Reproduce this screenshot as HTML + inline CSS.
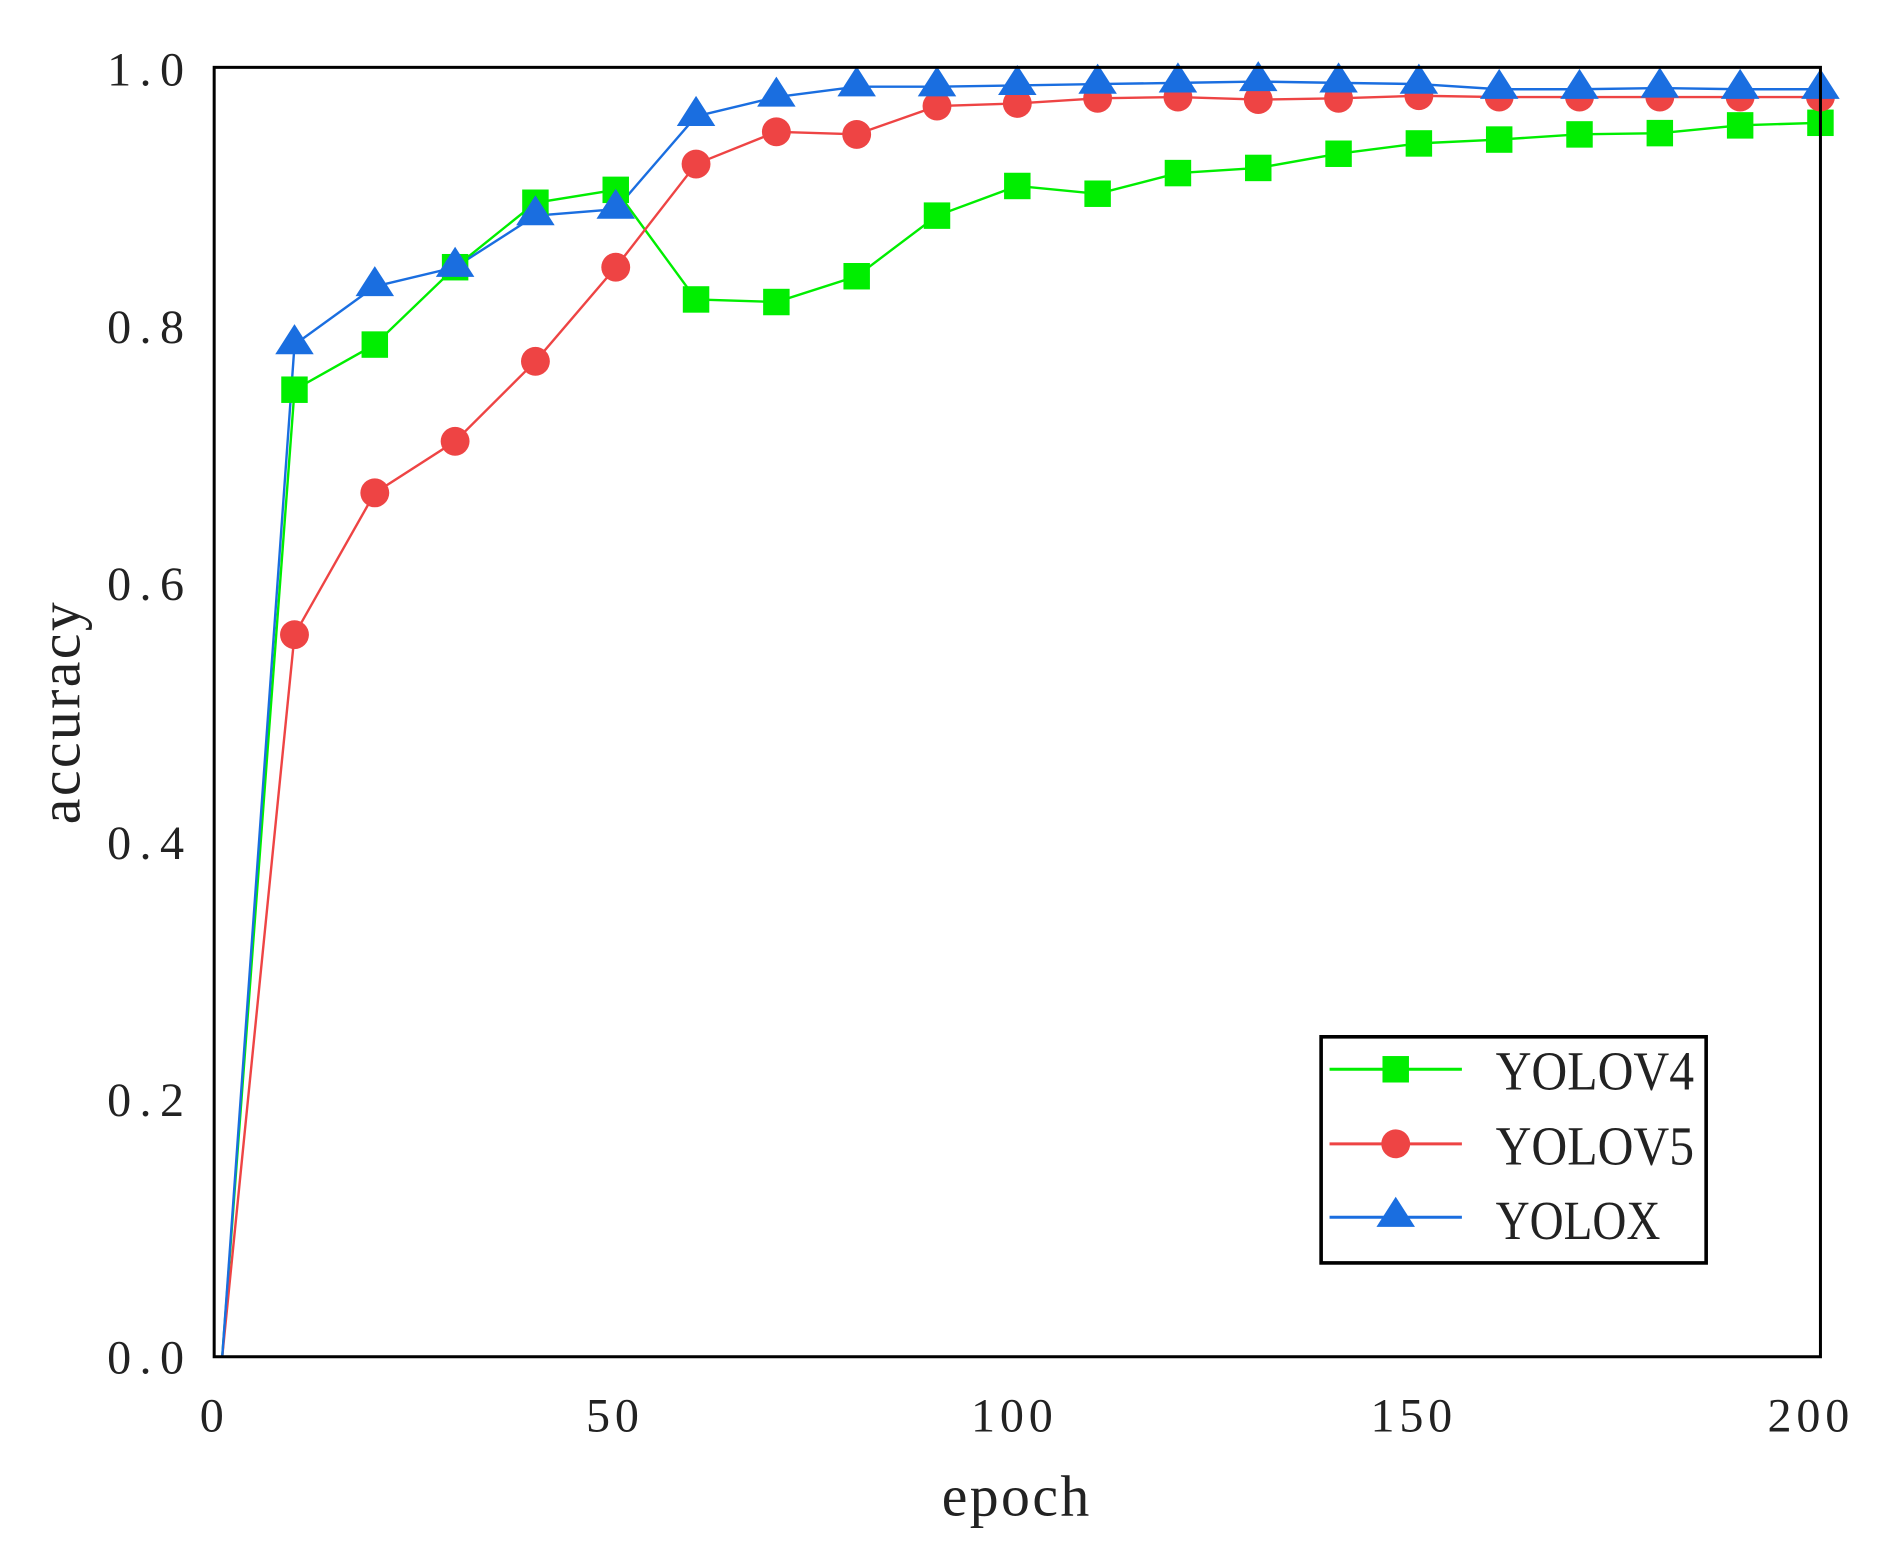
<!DOCTYPE html>
<html><head><meta charset="utf-8"><style>
html,body{margin:0;padding:0;background:#fff;}
svg{display:block;}
text{font-family:"Liberation Serif","Noto Serif CJK SC",serif;fill:#222;}
</style></head><body>
<svg id="s" width="1877" height="1554" viewBox="0 0 1560 1292" preserveAspectRatio="none" xmlns="http://www.w3.org/2000/svg">
<rect x="0" y="0" width="1560" height="1292" fill="#fff"/>
<g id="series"></g>
<rect x="178" y="56" width="1335" height="1072" fill="none" stroke="#000" stroke-width="2.5"/>
<g font-size="40" text-anchor="end" letter-spacing="7">
<text x="160" y="1142">0.0</text>
<text x="160" y="928">0.2</text>
<text x="160" y="714">0.4</text>
<text x="160" y="499">0.6</text>
<text x="160" y="285">0.8</text>
<text x="160" y="71">1.0</text>
</g>
<g font-size="40" text-anchor="middle" letter-spacing="4">
<text x="178" y="1190">0</text>
<text x="511" y="1190">50</text>
<text x="843" y="1190">100</text>
<text x="1175" y="1190">150</text>
<text x="1505" y="1190">200</text>
</g>
<text x="845" y="1260" font-size="48" text-anchor="middle" letter-spacing="2">epoch</text>
<text transform="translate(66,592) rotate(-90)" font-size="48" text-anchor="middle" letter-spacing="2">accuracy</text>
<rect x="1098" y="862" width="320" height="188" fill="#fff" stroke="#000" stroke-width="3"/>
<line x1="1105" y1="889" x2="1215" y2="889" stroke="#00ee00" stroke-width="2.5"/>
<rect x="1149" y="878" width="22" height="22" fill="#00ee00"/>
<line x1="1105" y1="951" x2="1215" y2="951" stroke="#ee4444" stroke-width="2.5"/>
<circle cx="1160" cy="951" r="12" fill="#ee4444"/>
<line x1="1105" y1="1012" x2="1215" y2="1012" stroke="#1a6ee0" stroke-width="2.5"/>
<polygon points="1160,995 1144,1020 1176,1020" fill="#1a6ee0"/>
<g font-size="46" textLength="165">
<text x="1243" y="906" textLength="165" lengthAdjust="spacingAndGlyphs">YOLOV4</text>
<text x="1243" y="968" textLength="165" lengthAdjust="spacingAndGlyphs">YOLOV5</text>
<text x="1243" y="1030" textLength="137" lengthAdjust="spacingAndGlyphs">YOLOX</text>
</g>
</svg>
<script>
var X=function(e){return 178+e*6.675}, Y=function(v){return 1128-v*1072};
var ep=[1,10,20,30,40,50,60,70,80,90,100,110,120,130,140,150,160,170,180,190,200];
var v4=[0,0.75,0.785,0.845,0.895,0.905,0.82,0.818,0.838,0.885,0.908,0.902,0.918,0.922,0.933,0.941,0.944,0.948,0.949,0.955,0.957];
var v5=[0,0.56,0.67,0.71,0.772,0.845,0.925,0.95,0.948,0.97,0.972,0.976,0.977,0.975,0.976,0.978,0.977,0.977,0.977,0.977,0.977];
var vx=[0,0.785,0.83,0.845,0.885,0.89,0.962,0.977,0.985,0.985,0.986,0.987,0.988,0.989,0.988,0.987,0.983,0.983,0.984,0.983,0.983];
var g=document.getElementById('series'),h='';
function line(d,c){var p=d.map(function(v,i){return X(ep[i]).toFixed(1)+','+Y(v).toFixed(1)}).join(' ');h+='<polyline points="'+p+'" fill="none" stroke="'+c+'" stroke-width="2"/>';}
line(v4,'#00ee00');line(v5,'#ee4444');line(vx,'#1a6ee0');
v4.forEach(function(v,i){if(i==0)return;h+='<rect x="'+(X(ep[i])-11)+'" y="'+(Y(v)-11)+'" width="22" height="22" fill="#00ee00"/>';});
v5.forEach(function(v,i){if(i==0)return;h+='<circle cx="'+X(ep[i])+'" cy="'+Y(v)+'" r="12" fill="#ee4444"/>';});
vx.forEach(function(v,i){if(i==0)return;var x=X(ep[i]),y=Y(v);h+='<polygon points="'+x+','+(y-17)+' '+(x-16)+','+(y+8)+' '+(x+16)+','+(y+8)+'" fill="#1a6ee0"/>';});
g.innerHTML=h;
</script>
</body></html>
